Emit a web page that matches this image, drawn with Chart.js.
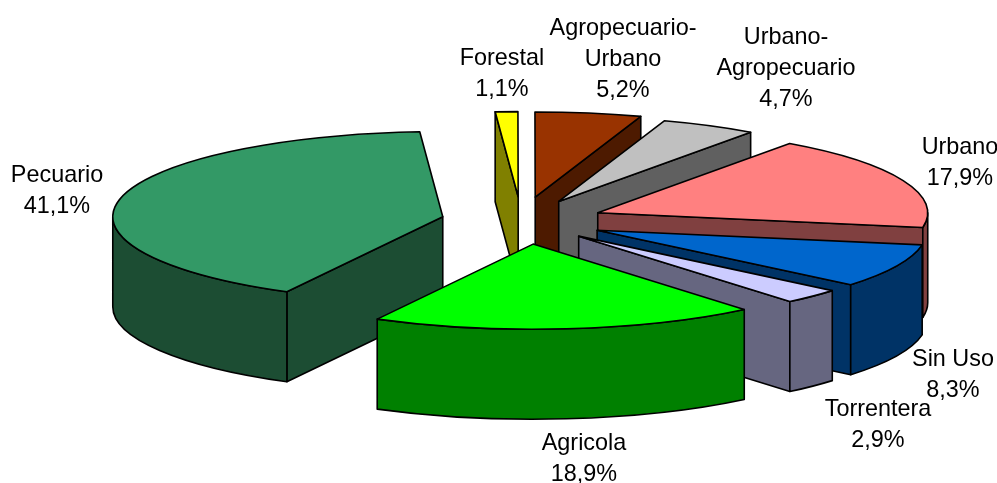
<!DOCTYPE html>
<html>
<head>
<meta charset="utf-8">
<style>
  html, body { margin: 0; padding: 0; background: #fff; }
  #wrap { width: 997px; height: 483px; }
</style>
<script src="https://cdn.jsdelivr.net/npm/chart.js@4"></script>
</head>
<body>
<div id="wrap"><canvas id="pie"></canvas></div>
<script>
// Categories and shares, clockwise from Forestal
const categories = ["Forestal", "Agropecuario-Urbano", "Urbano-Agropecuario", "Urbano", "Sin Uso", "Torrentera", "Agricola", "Pecuario"];
const shares = [1.1, 5.2, 4.7, 17.9, 8.3, 2.9, 18.9, 41.1];

// Colours of the slice tops and of their walls
const topColors = ["#ffff00", "#993300", "#c0c0c0", "#ff8080", "#0066cc", "#ccccff", "#00ff00", "#339966"];
const wallColors = ["#808000", "#4d1a00", "#606060", "#804040", "#003366", "#666680", "#008000", "#1c4d33"];

// How far each slice is pulled out of the pie, plus a small sideways correction
const explode = [94, 94, 85, 84, 85, 83, 90, 80];
const nudgeX = [1.5, 0, 0, 0, 0, 0, 4, 1];

// Label text lines and where each one is centred
const labelLines = [["Forestal", "1,1%"], ["Agropecuario-", "Urbano", "5,2%"], ["Urbano-", "Agropecuario", "4,7%"], ["Urbano", "17,9%"], ["Sin Uso", "8,3%"], ["Torrentera", "2,9%"], ["Agricola", "18,9%"], ["Pecuario", "41,1%"]];
const labelAnchors = [[502, 59], [623, 29], [786, 38], [960, 148], [953, 360], [878, 410], [584, 444], [57, 176]];

const squash = 0.258;   // flattening of the pie
const depth = 90;       // height of the walls
const centerY = 221;    // screen y of the pie centre
const draw_order = [7, 0, 1, 2, 3, 4, 5, 6];

function rimPoint(cx, cy, r, a) {
  return [cx + r * Math.cos(a), cy + r * squash * Math.sin(a)];
}

function drawSlice(ctx, arc, i) {
  const r = arc.outerRadius;
  const mid = (arc.startAngle + arc.endAngle) / 2;
  const cx = arc.x + explode[i] * Math.cos(mid) + nudgeX[i];
  const cy = centerY + explode[i] * squash * Math.sin(mid);
  const s = arc.startAngle, e = arc.endAngle;
  const ps = rimPoint(cx, cy, r, s), pe = rimPoint(cx, cy, r, e);

  ctx.lineWidth = 1.6;
  ctx.lineJoin = "round";
  ctx.strokeStyle = "#000";
  ctx.fillStyle = wallColors[i];

  // radial walls, only when they face the viewer
  const wall = (p) => {
    ctx.beginPath();
    ctx.moveTo(cx, cy);
    ctx.lineTo(p[0], p[1]);
    ctx.lineTo(p[0], p[1] + depth);
    ctx.lineTo(cx, cy + depth);
    ctx.closePath();
    ctx.fill();
    ctx.stroke();
  };
  if (Math.sin(s - Math.PI / 2) > 0.001) wall(ps);
  if (Math.sin(e + Math.PI / 2) > 0.001) wall(pe);

  // outer wall, the part on the lower half of the ellipse
  const norm = a => ((a % (2 * Math.PI)) + 2 * Math.PI) % (2 * Math.PI);
  const a0 = norm(s), a1 = a0 + (e - s);
  [0, 2 * Math.PI].forEach(base => {
    const from = Math.max(a0, base), to = Math.min(a1, base + Math.PI);
    if (to > from) {
      ctx.beginPath();
      ctx.ellipse(cx, cy, r, r * squash, 0, from, to, false);
      ctx.ellipse(cx, cy + depth, r, r * squash, 0, to, from, true);
      ctx.closePath();
      ctx.fill();
      ctx.stroke();
    }
  });

  // top face
  ctx.fillStyle = topColors[i];
  ctx.beginPath();
  ctx.moveTo(cx, cy);
  ctx.ellipse(cx, cy, r, r * squash, 0, s, e, false);
  ctx.closePath();
  ctx.fill();
  ctx.stroke();
}

const pie3d = {
  id: "pie3d",
  beforeDatasetsDraw(chart) {
    const ctx = chart.ctx;
    const arcs = chart.getDatasetMeta(0).data;
    draw_order.forEach(i => drawSlice(ctx, arcs[i], i));

    ctx.fillStyle = "#000";
    ctx.font = "23.4px 'Liberation Sans'";
    ctx.textAlign = "center";
    ctx.textBaseline = "middle";
    labelLines.forEach((lines, i) => {
      lines.forEach((t, j) => ctx.fillText(t, labelAnchors[i][0], labelAnchors[i][1] + j * 31));
    });
    return false;
  }
};

new Chart(document.getElementById("pie"), {
  type: "pie",
  data: {
    labels: categories,
    datasets: [{ data: shares, backgroundColor: topColors, borderColor: "#000", borderWidth: 1 }]
  },
  options: {
    responsive: true,
    maintainAspectRatio: false,
    animation: false,
    radius: 330,
    rotation: -4,
    layout: { padding: { left: 43 } },
    plugins: { legend: { display: false }, tooltip: { enabled: false } }
  },
  plugins: [pie3d]
});
</script>
</body>
</html>
